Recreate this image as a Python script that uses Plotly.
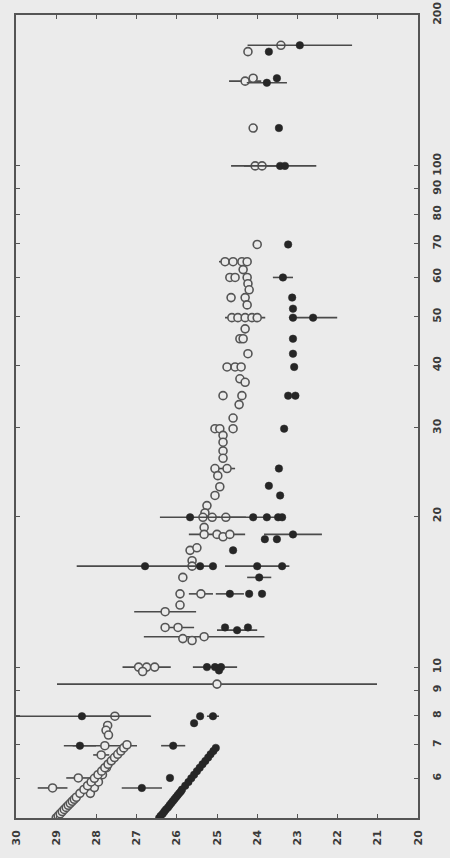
import plotly.graph_objects as go

# Open symbols: magnitude, period (days), magnitude error
open_mag = [
    23.41, 24.23, 24.30, 24.10, 24.10, 24.05, 23.88,
    24.00, 24.80, 24.60, 24.38, 24.25, 24.35, 24.68, 24.55, 24.25, 24.23, 24.20,
    24.65, 24.30, 24.25, 24.63, 24.48, 24.30, 24.13, 24.00, 24.30, 24.43, 24.35,
    24.23, 24.75, 24.55, 24.40, 24.43, 24.30, 24.85, 24.38, 24.45, 24.60, 25.05,
    24.93, 24.60, 24.85, 24.85, 24.85, 24.85, 25.05, 24.75, 24.98, 24.93, 25.05,
    25.25, 25.30, 25.35, 25.12, 24.78, 25.32, 25.32, 25.00, 24.85, 24.68, 25.67,
    25.50, 25.62, 25.62, 25.85, 25.92, 25.40, 25.92, 26.29, 26.29, 25.97, 25.85,
    25.62, 25.32,
    26.95, 26.75, 26.55, 26.85, 25.00,
    27.54, 27.72, 27.76, 27.70, 27.79, 27.88, 28.45, 29.09,
    28.15, 28.05, 27.95, 27.85, 27.75,
    29.00, 28.95, 28.90, 28.85, 28.80, 28.75, 28.70, 28.65, 28.60, 28.55, 28.50,
    28.41, 28.31, 28.22, 28.13, 28.05, 27.96, 27.87, 27.79, 27.71, 27.63, 27.55,
    27.47, 27.39, 27.32, 27.24,
]
open_per = [
    174, 169, 147.6, 149.6, 119, 100, 100,
    69.7, 64.4, 64.4, 64.4, 64.4, 62.1, 59.9, 59.9, 59.9, 58.2, 56.6,
    54.6, 54.6, 52.8, 49.8, 49.8, 49.8, 49.8, 49.8, 47.3, 45.2, 45.2,
    42.2, 39.7, 39.7, 39.7, 37.6, 37.0, 34.8, 34.8, 33.4, 31.4, 29.9,
    29.9, 29.9, 29.0, 28.1, 27.0, 26.1, 24.9, 24.9, 24.1, 22.9, 22.0,
    21.0, 20.3, 19.9, 19.9, 19.9, 19.0, 18.4, 18.4, 18.2, 18.4, 17.1,
    17.3, 16.3, 15.9, 15.1, 14.0, 14.0, 13.3, 12.9, 12.0, 12.0, 11.4,
    11.3, 11.5,
    10.0, 10.0, 10.0, 9.8, 9.25,
    7.98, 7.65, 7.48, 7.32, 6.97, 6.68, 6.01, 5.74,
    5.6, 5.75, 5.9, 6.1, 6.3,
    5.0, 5.05, 5.1, 5.15, 5.2, 5.25, 5.3, 5.35, 5.4, 5.45, 5.5,
    5.6, 5.7, 5.8, 5.9, 6.0, 6.1, 6.2, 6.3, 6.4, 6.5, 6.6,
    6.7, 6.8, 6.9, 7.0,
]
open_err = [
    0, 0, 0.4, 0, 0, 0.6, 0,
    0, 0.15, 0, 0, 0, 0, 0, 0, 0, 0, 0,
    0, 0, 0, 0, 0, 0.5, 0, 0, 0, 0, 0,
    0, 0, 0, 0, 0, 0, 0, 0, 0, 0, 0,
    0, 0, 0, 0, 0, 0, 0, 0.2, 0, 0, 0,
    0, 0, 0, 0, 0.5, 0, 0, 0.7, 0, 0, 0,
    0, 0, 0, 0, 0, 0.3, 0, 0.77, 0, 0.4, 0,
    0, 1.5,
    0, 0.6, 0, 0, 3.98,
    0.9, 0, 0, 0, 0.8, 0.2, 0.3, 0.37,
    0, 0, 0, 0, 0,
    0, 0, 0, 0, 0, 0, 0, 0, 0, 0, 0,
    0, 0, 0, 0, 0, 0, 0, 0, 0, 0, 0,
    0, 0, 0, 0,
]

# Filled symbols: magnitude, period (days), magnitude error
filled_mag = [
    22.94, 23.71, 23.76, 23.51, 23.46, 23.43, 23.31,
    23.23, 23.36, 23.13, 23.11, 23.11, 22.61, 23.11, 23.11, 23.08, 23.23, 23.05,
    23.33, 23.46, 23.71, 23.43,
    25.67, 24.10, 23.76, 23.48, 23.38, 23.11, 23.81, 23.51, 24.60,
    26.79, 25.42, 25.10, 24.00, 23.38, 23.95, 24.68, 24.20, 23.88,
    24.80, 24.50, 24.23,
    25.25, 25.05, 24.90, 24.95,
    28.36, 25.42, 25.10, 25.57,
    28.41, 26.09, 26.17, 26.87,
    26.44, 26.40, 26.35, 26.31, 26.27, 26.22, 26.18, 26.14, 26.10, 26.06, 26.02,
    25.98, 25.94, 25.90, 25.87, 25.79, 25.71, 25.64, 25.57, 25.50, 25.43, 25.36,
    25.29, 25.22, 25.16, 25.09, 25.03,
]
filled_per = [
    174, 169, 146.5, 149.6, 119, 100, 100,
    69.7, 59.9, 54.6, 51.9, 49.8, 49.8, 45.2, 42.2, 39.7, 34.8, 34.8,
    29.9, 24.9, 23.0, 22.0,
    19.9, 19.9, 19.9, 19.9, 19.9, 18.4, 18.0, 18.0, 17.1,
    15.9, 15.9, 15.9, 15.9, 15.9, 15.1, 14.0, 14.0, 14.0,
    12.0, 11.85, 12.0,
    10.0, 10.0, 10.0, 9.85,
    7.98, 7.98, 7.98, 7.73,
    6.97, 6.97, 6.01, 5.74,
    5.0, 5.05, 5.1, 5.15, 5.2, 5.25, 5.3, 5.35, 5.4, 5.45, 5.5,
    5.55, 5.6, 5.65, 5.7, 5.8, 5.9, 6.0, 6.1, 6.2, 6.3, 6.4,
    6.5, 6.6, 6.7, 6.8, 6.9,
]
filled_err = [
    1.3, 0, 0.5, 0, 0, 0.9, 0,
    0, 0.25, 0, 0, 0, 0.6, 0, 0, 0, 0, 0,
    0, 0, 0, 0,
    0.75, 0.8, 0, 0, 0, 0.72, 0, 0, 0,
    1.7, 0, 0, 0.8, 0, 0.3, 0.35, 0, 0,
    0, 0.5, 0,
    0, 0.55, 0, 0,
    1.7, 0, 0.15, 0,
    0.4, 0.3, 0, 0.5,
    0, 0, 0, 0, 0, 0, 0, 0, 0, 0, 0,
    0, 0, 0, 0, 0, 0, 0, 0, 0, 0, 0,
    0, 0, 0, 0, 0,
]

# Axis ticks
mag_ticks = [30, 29, 28, 27, 26, 25, 24, 23, 22, 21, 20]
per_ticks = [6, 7, 8, 9, 10, 20, 30, 40, 50, 60, 70, 80, 90, 100, 200]

BG = "#ebebeb"
INK = "#3a3a3a"

fig = go.Figure()

fig.add_trace(go.Scatter(
    x=open_mag, y=open_per, mode="markers",
    error_x=dict(type="data", array=open_err, visible=True,
                 color="#4a4a4a", thickness=1.6, width=0),
    marker=dict(symbol="circle", size=8, color=BG,
                line=dict(color="#555555", width=1.6)),
    showlegend=False,
))

fig.add_trace(go.Scatter(
    x=filled_mag, y=filled_per, mode="markers",
    error_x=dict(type="data", array=filled_err, visible=True,
                 color="#4a4a4a", thickness=1.6, width=0),
    marker=dict(symbol="circle", size=7.5, color="#262626",
                line=dict(color="#262626", width=0.5)),
    showlegend=False,
))

fig.update_layout(
    width=450, height=858,
    margin=dict(l=16, r=32, t=15, b=40),
    paper_bgcolor=BG, plot_bgcolor=BG,
    font=dict(family="DejaVu Sans", size=10, color=INK),
)

fig.update_xaxes(
    range=[30, 20], automargin=False,
    tickvals=mag_ticks, ticktext=[str(t) for t in mag_ticks],
    tickangle=-90, ticks="inside", ticklen=4, tickwidth=1, tickcolor="#555555",
    ticklabelstandoff=6,
    showline=True, linecolor="#555555", linewidth=1.5, mirror="ticks",
    showgrid=False, zeroline=False,
    tickfont=dict(family="DejaVu Sans", size=11, color=INK, weight="bold"),
)

fig.update_yaxes(
    type="log", range=[0.69897, 2.30103], side="right", automargin=False,
    tickvals=per_ticks, ticktext=[str(t) for t in per_ticks],
    tickangle=-90, ticks="inside", ticklen=4, tickwidth=1, tickcolor="#555555",
    ticklabelstandoff=8,
    showline=True, linecolor="#555555", linewidth=1.5, mirror="ticks",
    showgrid=False, zeroline=False,
    tickfont=dict(family="DejaVu Sans", size=11, color=INK, weight="bold"),
)

fig.write_html("out.html")
